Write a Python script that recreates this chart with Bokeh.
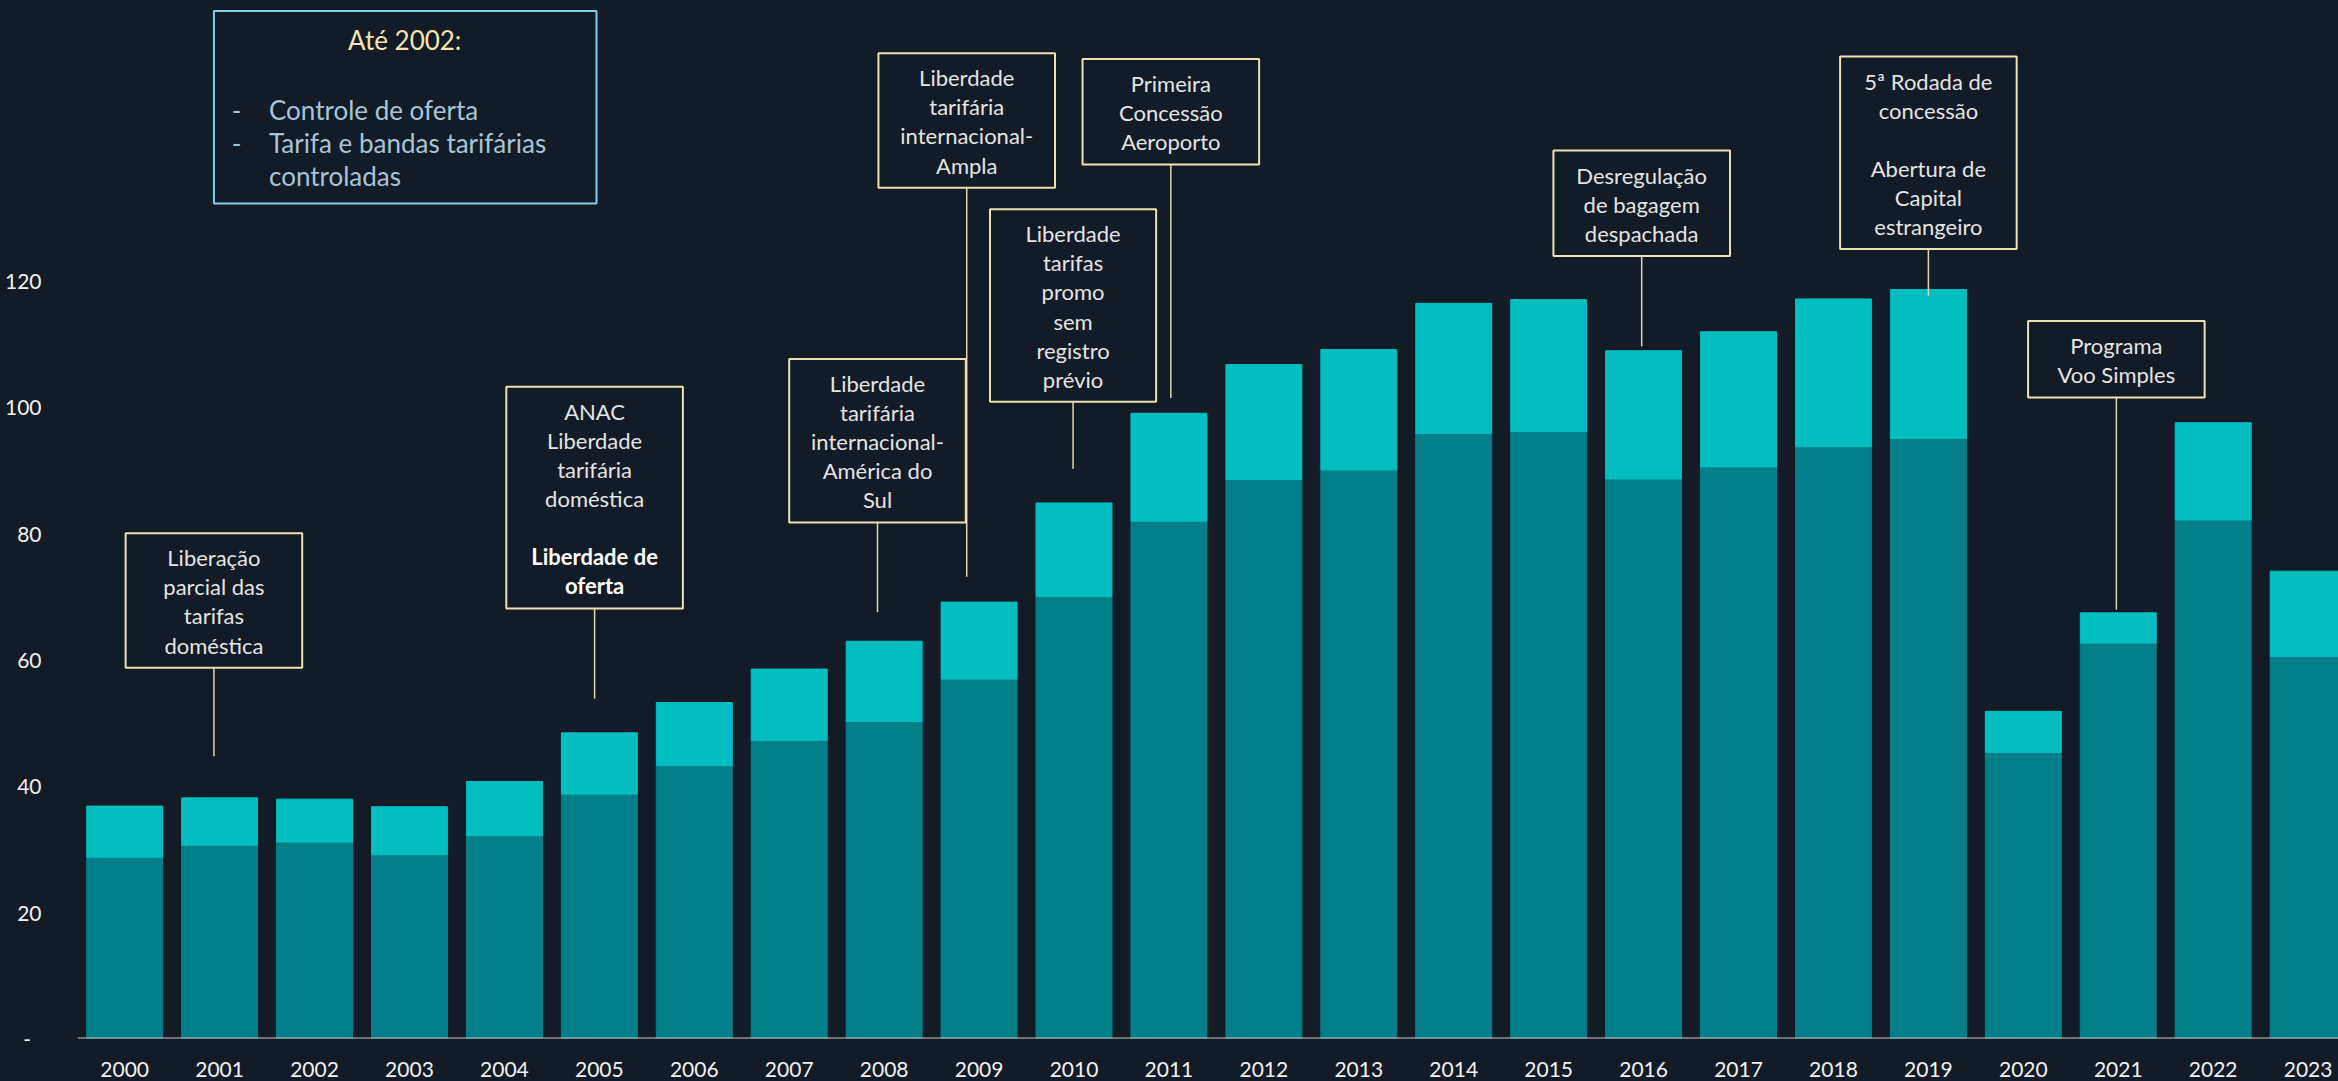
from bokeh.plotting import figure
from bokeh.models import Range1d, FixedTicker, ColumnDataSource, Span
from bokeh.core.properties import value
from bokeh.embed import file_html
from bokeh.resources import INLINE

# ---------------- data ----------------
years = list(range(2000, 2024))
year_labels = [str(y) for y in years]
domestico = [28.7, 30.6, 31.1, 29.1, 32.1, 38.7, 43.2, 47.2, 50.2, 56.9, 70.0, 81.9,
             88.5, 90.0, 95.8, 96.1, 88.6, 90.5, 93.7, 95.0, 45.3, 62.6, 82.1, 60.5]
internacional = [8.1, 7.5, 6.8, 7.6, 8.6, 9.7, 10.0, 11.3, 12.7, 12.2, 14.8, 17.1,
                 18.2, 19.1, 20.6, 20.9, 20.3, 21.4, 23.4, 23.6, 6.5, 4.8, 15.4, 13.5]
y_ticks = [0, 20, 40, 60, 80, 100, 120]

# annotation texts (lines starting with * are bold)
note_centers = [2000.94, 2004.95, 2007.93, 2008.87, 2009.99, 2011.02, 2015.98, 2019.0, 2020.98]
note_tops = [80.0, 103.2, 107.6, 156.0, 131.3, 155.1, 140.6, 155.5, 113.6]
note_widths = [1.86, 1.86, 1.86, 1.86, 1.75, 1.86, 1.86, 1.86, 1.86]
note_leader_ends = [44.7, 53.8, 67.5, 73.1, 90.2, 101.4, 109.6, 117.6, 67.9]
note_texts = [
    ["Liberação", "parcial das", "tarifas", "doméstica"],
    ["ANAC", "Liberdade", "tarifária", "doméstica", "", "*Liberdade de", "*oferta"],
    ["Liberdade", "tarifária", "internacional-", "América do", "Sul"],
    ["Liberdade", "tarifária", "internacional-", "Ampla"],
    ["Liberdade", "tarifas", "promo", "sem", "registro", "prévio"],
    ["Primeira", "Concessão", "Aeroporto"],
    ["Desregulação", "de bagagem", "despachada"],
    ["5ª Rodada de", "concessão", "", "Abertura de", "Capital", "estrangeiro"],
    ["Programa", "Voo Simples"],
]
intro_title = "Até 2002:"
intro_bullets = ["Controle de oferta", "Tarifa e bandas tarifárias", "controladas"]

# ---------------- styles ----------------
BG = "#121b26"
DARK = "#037f8a"
LIGHT = "#03bec1"
CREAM = "#efe1b4"
FONT = value("Lato")

top_total = [d + i for d, i in zip(domestico, internacional)]

p = figure(width=2338, height=1081, output_backend="svg", toolbar_location=None,
           x_range=Range1d(1999.503, 2023.32), y_range=Range1d(0, 164.35),
           background_fill_color=BG, border_fill_color=BG,
           min_border_left=77, min_border_right=0, min_border_top=0, min_border_bottom=43)
p.outline_line_color = None
p.grid.visible = False

src = ColumnDataSource(dict(x=years, dom=domestico, tot=top_total, lab=year_labels))
p.vbar(x="x", width=0.8, bottom=0, top="dom", source=src, fill_color=DARK, line_color=DARK, line_width=1)
p.vbar(x="x", width=0.8, bottom="dom", top="tot", source=src, fill_color=LIGHT, line_color=LIGHT, line_width=1)

# x axis: line + category labels drawn below the frame
p.xaxis.visible = False
p.add_layout(Span(location=0, dimension="width", line_color="#c9c9c9", line_width=2))
p.text(x="x", y=-4.9, text="lab", source=src, text_align="center", text_baseline="middle",
       text_font=FONT, text_font_size="21px", text_color="#f2f2f2", level="overlay")

ya = p.yaxis[0]
ya.ticker = FixedTicker(ticks=y_ticks)
ya.major_label_overrides = {0: "-\u2002"}
ya.axis_line_color = None
ya.major_tick_line_color = None
ya.minor_tick_line_color = None
ya.major_label_text_color = "#f2f2f2"
ya.major_label_text_font = "Lato"
ya.major_label_text_font_size = "21px"
ya.major_label_standoff = 30

# annotation boxes
PAD = 3.75
LS = 4.6
FIRST = 3.9
lx, ly, lt, bx, by, bt = [], [], [], [], [], []
q_l, q_r, q_t, q_b = [], [], [], []
s_x, s_y0, s_y1 = [], [], []
for cx, top, w, lines, lend in zip(note_centers, note_tops, note_widths, note_texts, note_leader_ends):
    n = len(lines)
    bottom = top - 2 * PAD - (n - 1) * LS
    q_l.append(cx - w / 2); q_r.append(cx + w / 2); q_t.append(top); q_b.append(bottom)
    s_x.append(cx); s_y0.append(bottom); s_y1.append(lend)
    for i, t in enumerate(lines):
        yy = top - FIRST - i * LS
        if t.startswith("*"):
            bx.append(cx); by.append(yy); bt.append(t[1:])
        elif t:
            lx.append(cx); ly.append(yy); lt.append(t)

p.segment(x0=s_x, y0=s_y0, x1=s_x, y1=s_y1, line_color="#e3d6ad", line_width=1.5)
p.quad(left=q_l, right=q_r, top=q_t, bottom=q_b, fill_color=BG, line_color=CREAM, line_width=2)
p.text(x=lx, y=ly, text=lt, text_align="center", text_baseline="middle",
       text_font=FONT, text_font_size="22px", text_color="#e4e4e4")
p.text(x=bx, y=by, text=bt, text_align="center", text_baseline="middle",
       text_font=FONT, text_font_size="22px", text_font_style="bold", text_color="#ffffff")

# intro box
p.quad(left=[2000.94], right=[2004.97], top=[162.7], bottom=[132.2],
       fill_color=BG, line_color="#7fcfee", line_width=2)
p.text(x=[2002.95], y=[158.1], text=[intro_title], text_align="center", text_baseline="middle",
       text_font=FONT, text_font_size="26px", text_color="#f6e4b2")
b_y = [147.0, 141.8, 136.5]
p.text(x=[2001.18, 2001.18], y=b_y[:2], text=["-", "-"], text_align="center", text_baseline="middle",
       text_font=FONT, text_font_size="26px", text_color="#a8c5d8")
p.text(x=[2001.52] * 3, y=b_y, text=intro_bullets, text_align="left", text_baseline="middle",
       text_font=FONT, text_font_size="26px", text_color="#a8c5d8")

page_style = """
{% block postamble %}
<style>html, body { background-color: #121b26; }</style>
{% endblock %}
"""
open("out.html", "w").write(file_html(p, INLINE, template=page_style))
